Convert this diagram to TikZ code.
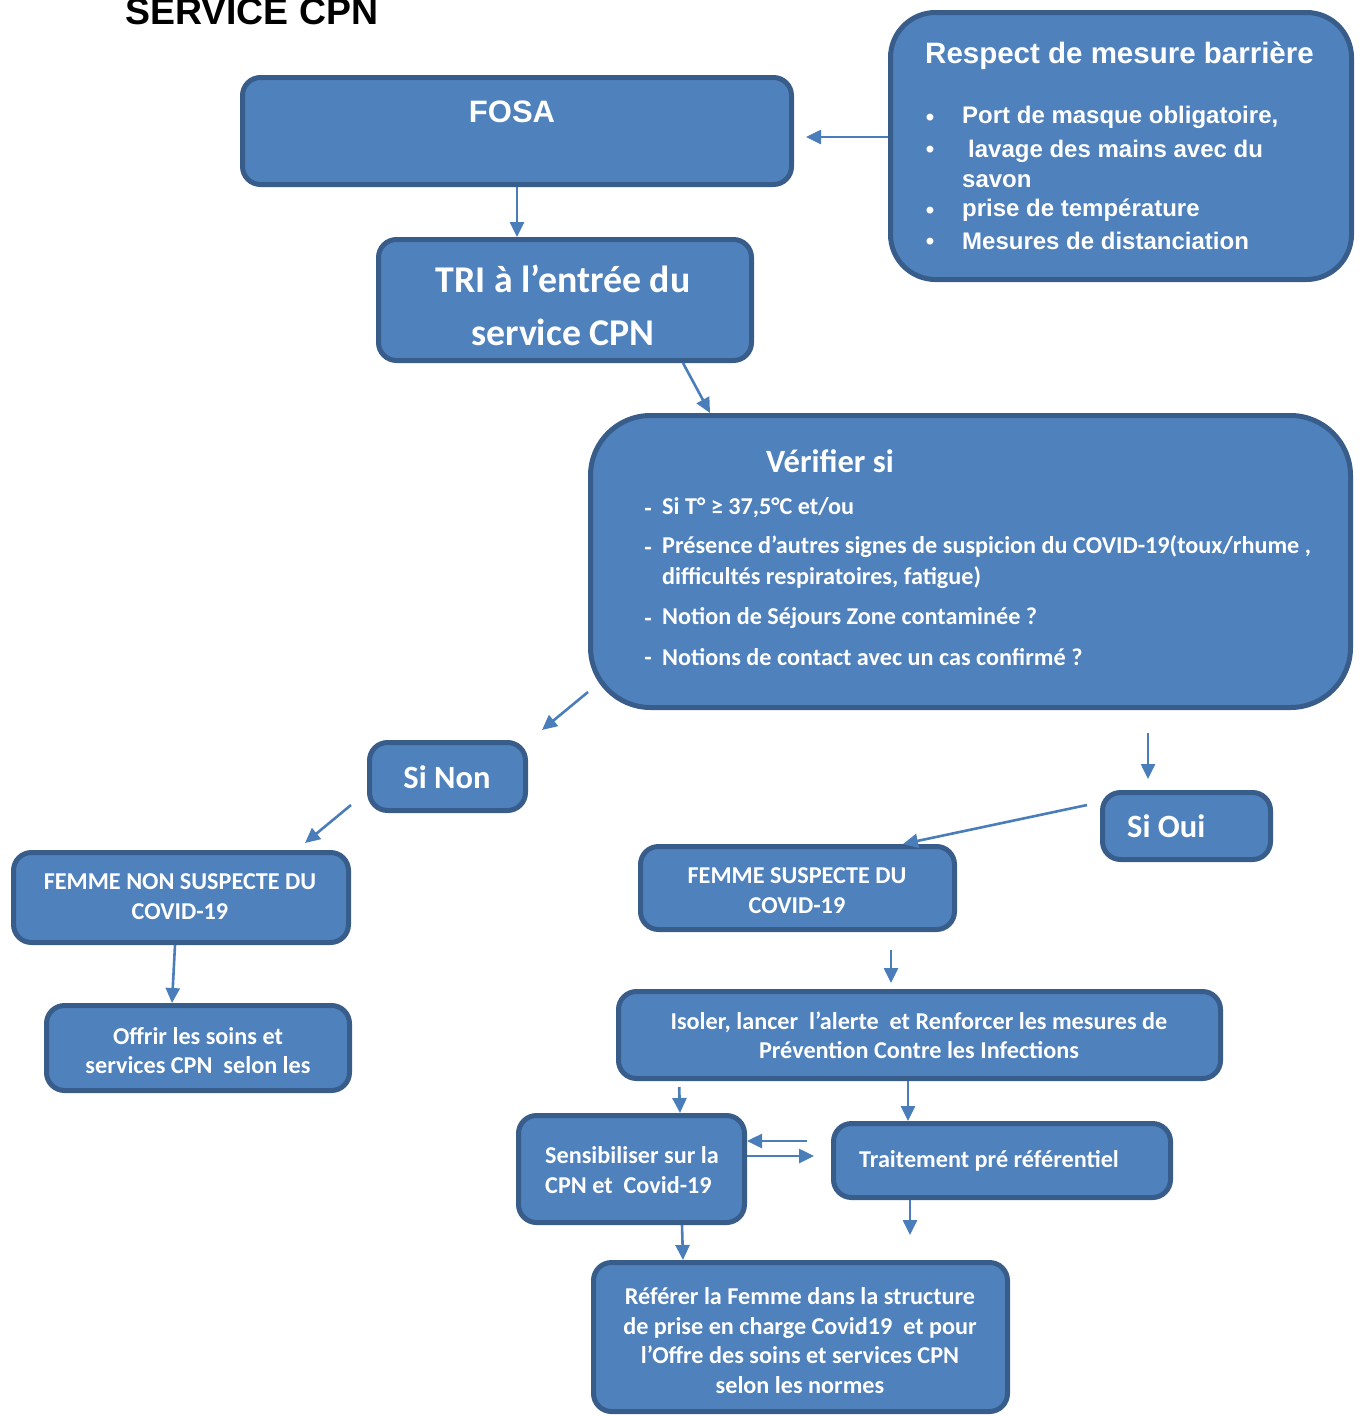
\documentclass[tikz,border=0pt]{standalone}
\usepackage{fontspec}
\setmainfont{Carlito}
\newfontfamily\arialf{Liberation Sans}
\usetikzlibrary{arrows.meta}

\definecolor{boxfill}{HTML}{4F81BD}
\definecolor{boxline}{HTML}{385D8A}
\definecolor{arrowc}{HTML}{4A7EBB}

% font sizes (1 unit = 1pt)
\newcommand\fTitle{\arialf\bfseries\fontsize{37.4}{44}\selectfont}
\newcommand\fFosa{\arialf\bfseries\fontsize{31}{37}\selectfont}
\newcommand\fResp{\arialf\bfseries\fontsize{29.5}{35}\selectfont}
\newcommand\fBul{\arialf\bfseries\fontsize{24}{30.5}\selectfont}
\newcommand\fTri{\bfseries\fontsize{37.8}{53}\selectfont}
\newcommand\fHead{\bfseries\fontsize{32.5}{38}\selectfont}
\newcommand\fItem{\bfseries\fontsize{24.2}{31}\selectfont}
\newcommand\fBody{\bfseries\fontsize{24.2}{29.5}\selectfont}

\begin{document}
\begin{tikzpicture}[x=1pt, y=-1pt,
  box/.style={draw=boxline, fill=boxfill, line width=5pt, rounded corners=18pt, inner sep=0pt},
  lbl/.style={text=white, inner sep=0pt, align=center, font=\fBody},
  arr/.style={draw=arrowc, line width=2.6pt, -{Triangle[length=15pt,width=14pt]}},
]
\useasboundingbox (0,0) rectangle (1363,1416);

% heading
\node[anchor=base west, inner sep=0pt, font=\fTitle] (title) at (125,24) {SERVICE CPN};

% FOSA
\node[box, minimum width=549pt, minimum height=107pt] (fosa) at (517,131) {};
\node[lbl, font=\fFosa] (fosat) at (512,112) {FOSA};

% barrier measures
\node[box, rounded corners=45pt, minimum width=461pt, minimum height=267pt] (resp) at (1121,146) {};
\node[lbl, anchor=west, font=\fResp] (respt) at (925,56) {Respect de mesure barrière};
\node[lbl, anchor=base, font=\fBul] (rb1) at (930,125) {•};
\node[lbl, anchor=base, font=\fBul] (rb2) at (930,157) {•};
\node[lbl, anchor=base, font=\fBul] (rb3) at (930,218) {•};
\node[lbl, anchor=base, font=\fBul] (rb4) at (930,249) {•};
\node[lbl, anchor=west, align=left, font=\fBul] (r1) at (962,117) {Port de masque obligatoire,};
\node[lbl, anchor=west, align=left, font=\fBul] (r2) at (962,164) {\hspace*{6pt}lavage des mains avec du\\savon};
\node[lbl, anchor=west, align=left, font=\fBul] (r3) at (962,210) {prise de température};
\node[lbl, anchor=west, align=left, font=\fBul] (r4) at (962,241) {Mesures de distanciation};

% triage
\node[box, minimum width=373pt, minimum height=121pt] (tri) at (565,300) {};
\node[lbl, font=\fTri] (trit) at (563,305.5) {TRI à l’entrée du\\service CPN};

% checks
\node[box, rounded corners=60pt, minimum width=760pt, minimum height=292pt] (ver) at (970.5,561.5) {};
\node[lbl, font=\fHead] (vert) at (830,461) {Vérifier si};
\node[lbl, anchor=base, font=\fItem] (vd1) at (648,516) {-};
\node[lbl, anchor=base, font=\fItem] (vd2) at (648,555) {-};
\node[lbl, anchor=base, font=\fItem] (vd3) at (648,626) {-};
\node[lbl, anchor=base, font=\fItem] (vd4) at (648,665) {-};
\node[lbl, anchor=west, align=left, font=\fItem] (v1) at (662,508) {Si T° ≥ 37,5°C et/ou};
\node[lbl, anchor=west, align=left, font=\fItem] (v2) at (662,562.5) {Présence d’autres signes de suspicion du COVID-19(toux/rhume ,\\difficultés respiratoires, fatigue)};
\node[lbl, anchor=west, align=left, font=\fItem] (v3) at (662,618) {Notion de Séjours Zone contaminée ?};
\node[lbl, anchor=west, align=left, font=\fItem] (v4) at (662,657) {Notions de contact avec un cas confirmé ?};

% answers
\node[box, minimum width=156pt, minimum height=68pt] (non) at (447.5,776.5) {};
\node[lbl, font=\fHead] (nont) at (447,777) {Si Non};
\node[box, minimum width=168pt, minimum height=67pt] (oui) at (1186.5,826) {};
\node[lbl, anchor=west, font=\fHead] (ouit) at (1127,826) {Si Oui};

% left branch
\node[box, minimum width=335pt, minimum height=90pt] (fns) at (181,897.5) {};
\node[lbl] (fnst) at (180,896.5) {FEMME NON SUSPECTE DU\\COVID-19};
\node[box, minimum width=303pt, minimum height=85pt] (offr) at (198,1048) {};
\node[lbl] (offrt) at (198,1050.5) {Offrir les soins et\\services CPN~ selon les};

% right branch
\node[box, minimum width=314pt, minimum height=83pt] (fs) at (797.5,888) {};
\node[lbl] (fst) at (797,890.5) {FEMME SUSPECTE DU\\COVID-19};
\node[box, minimum width=602pt, minimum height=87pt] (iso) at (919.5,1035) {};
\node[lbl] (isot) at (919,1035.5) {Isoler, lancer~ l’alerte~ et Renforcer les mesures de\\Prévention Contre les Infections};
\node[box, minimum width=226pt, minimum height=107pt] (sens) at (631.5,1169) {};
\node[lbl, anchor=west, align=left] (senst) at (545,1170) {Sensibiliser sur la\\CPN et~ Covid-19};
\node[box, minimum width=337pt, minimum height=74pt] (trait) at (1002,1160.5) {};
\node[lbl, anchor=west] (traitt) at (859,1161) {Traitement pré référentiel};
\node[box, minimum width=414pt, minimum height=149pt] (ref) at (800.5,1337) {};
\node[lbl] (reft) at (800,1340.5) {Référer la Femme dans la structure\\de prise en charge Covid19~ et pour\\l’Offre des soins et services CPN\\selon les normes};

% free arrow ends
\coordinate (nonin) at (542,730);
\coordinate (ouiin) at (1148,733);
\coordinate (nonout) at (351,805);
\coordinate (fnsin) at (305,843);
\coordinate (ouiout) at (1087,805);
\coordinate (fsout) at (891,950);
\coordinate (traitout) at (910,1235);

% connectors
\draw[arr, shorten >=12pt] (resp.west |- 0,137) -- (fosa.east |- 0,137);
\draw[arr] (fosa.south) -- (fosa.south |- tri.north);
\draw[arr] (tri.south -| 683,0) -- (ver.north -| 710,0);
\draw[arr] (ver.west |- 0,692) -- (nonin);
\draw[arr, shorten >=11pt] (ouiin) -- (oui.north -| 1148,0);
\draw[arr] (nonout) -- (fnsin);
\draw[arr] (ouiout) -- (fs.north -| 903,0);
\draw[arr] (fns.south -| 175,0) -- (offr.north -| 172,0);
\draw[arr, shorten >=6pt] (fsout) -- (iso.north -| 891,0);
\draw[arr, shorten <=6pt] (iso.south -| 679,0) -- (sens.north -| 680,0);
\draw[arr] (iso.south -| 908,0) -- (trait.north -| 908,0);
\draw[arr, shorten <=24pt] (trait.west |- 0,1141) -- (sens.east |- 0,1141);
\draw[arr, shorten >=17pt] (sens.east |- 0,1156) -- (trait.west |- 0,1156);
\draw[arr] (trait.south -| 910,0) -- (traitout);
\draw[arr] (sens.south -| 682,0) -- (ref.north -| 683,0);
\end{tikzpicture}
\end{document}
